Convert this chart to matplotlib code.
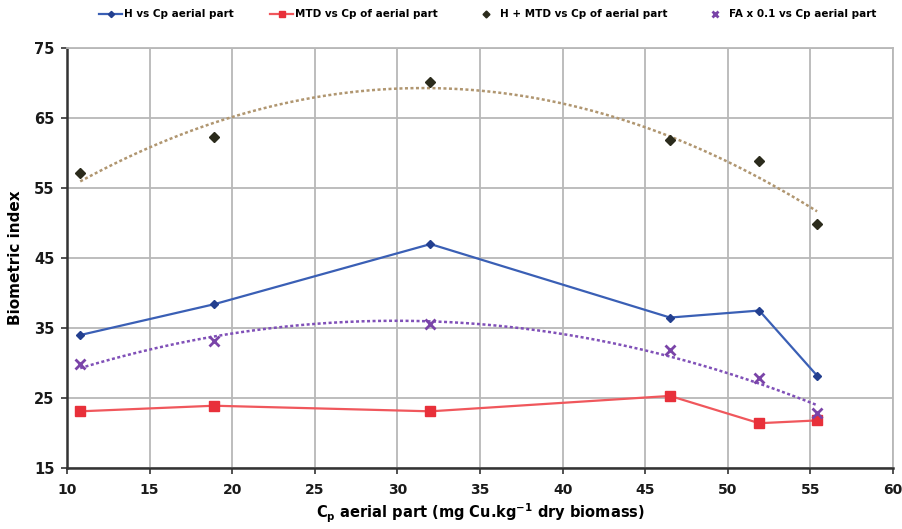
import matplotlib.pyplot as plt
import numpy as np

# Cu concentration in aerial part (mg Cu/kg dry biomass)
cp = [10.8, 18.9, 32.0, 46.5, 51.9, 55.4]

h = [34.0, 38.4, 47.0, 36.5, 37.5, 28.2]
mtd = [23.1, 23.9, 23.1, 25.3, 21.4, 21.8]
h_mtd = [57.1, 62.3, 70.1, 61.9, 58.9, 49.8]
fa_01 = [29.8, 33.1, 35.6, 31.8, 27.8, 22.9]

xticks = [10, 15, 20, 25, 30, 35, 40, 45, 50, 55, 60]
yticks = [15, 25, 35, 45, 55, 65, 75]

plt.rcParams['font.family'] = 'DejaVu Sans'
plt.rcParams['font.weight'] = 'bold'

fig = plt.figure(figsize=(9.03, 5.29), dpi=100)
ax = fig.add_axes([0.0742, 0.1153, 0.9148, 0.7937])

ax.plot(cp, h, color='#3a5fb5', lw=1.6, marker='D', ms=4.5,
        mfc='#233f8f', mec='#233f8f', label='H vs Cp aerial part', zorder=4)
ax.plot(cp, mtd, color='#f0575c', lw=1.6, marker='s', ms=6.5,
        mfc='#e8303a', mec='#e8303a', label='MTD vs Cp of aerial part', zorder=4)
ax.plot(cp, h_mtd, ls='none', marker='D', ms=5, mfc='#2b2b1c', mec='#2b2b1c',
        label='H + MTD vs Cp of aerial part', zorder=4)
ax.plot(cp, fa_01, ls='none', marker='x', ms=7, mew=2, color='#7a44a8',
        label='FA x 0.1 vs Cp aerial part', zorder=4)

# second-order polynomial trendlines
xs = np.linspace(min(cp), max(cp), 200)
p1 = np.polyfit(cp, h_mtd, 2)
ax.plot(xs, np.polyval(p1, xs), color='#b09670', lw=1.8, ls=(0, (1.2, 1.0)), zorder=3)
p2 = np.polyfit(cp, fa_01, 2)
ax.plot(xs, np.polyval(p2, xs), color='#8050b8', lw=1.8, ls=(0, (1.2, 1.0)), zorder=3)

ax.set_xlim(10, 60)
ax.set_ylim(15, 75)
ax.set_xticks(xticks)
ax.set_yticks(yticks)
ax.grid(True, color='#b8b8b8', lw=1.3)
ax.set_axisbelow(True)

for s in ['top', 'right']:
    ax.spines[s].set_color('#b8b8b8')
    ax.spines[s].set_linewidth(1.3)
for s in ['left', 'bottom']:
    ax.spines[s].set_color('#333333')
    ax.spines[s].set_linewidth(1.8)

ax.tick_params(axis='both', length=4, width=1.2, color='#333333',
               labelsize=10, labelcolor='#1a1a1a', pad=5)
ax.tick_params(axis='y', labelsize=10.5)
ax.tick_params(axis='x', pad=7)

ax.set_xlabel('C$_\\mathbf{p}$ aerial part (mg Cu.kg$^\\mathbf{-1}$ dry biomass)',
              fontsize=10.5, fontweight='bold', labelpad=3)
ax.set_ylabel('Biometric index', fontsize=11, fontweight='bold', labelpad=8)

fig.legend(loc='upper center', bbox_to_anchor=(0.54, 1.0), ncol=4, frameon=False,
           fontsize=7.5, handlelength=2.2, columnspacing=3.5, handletextpad=0.2,
           markerscale=0.7)

fig.savefig('out.png', dpi=100)
